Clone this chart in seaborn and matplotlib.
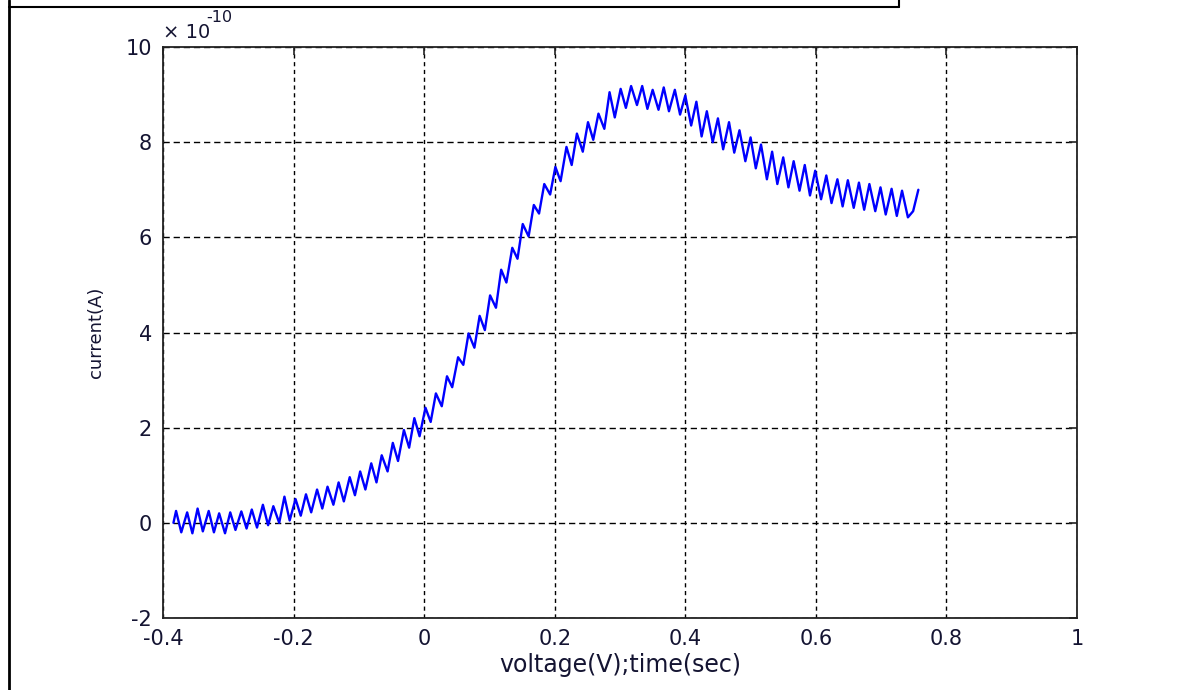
import numpy as np
import pandas as pd
import matplotlib
matplotlib.use("Agg")
import matplotlib.pyplot as plt
from matplotlib.lines import Line2D
import seaborn as sns

# ---- data ----
voltage = [
    -0.384, -0.380, -0.372, -0.363, -0.355, -0.347, -0.339, -0.330, -0.322, -0.314, -0.305,
    -0.297, -0.289, -0.280, -0.272, -0.264, -0.256, -0.247, -0.239, -0.231, -0.222,
    -0.214, -0.206, -0.197, -0.189, -0.181, -0.173, -0.164, -0.156, -0.148, -0.139,
    -0.131, -0.123, -0.114, -0.106, -0.098, -0.090, -0.081, -0.073, -0.065, -0.056,
    -0.048, -0.040, -0.031, -0.023, -0.015, -0.007, 0.002, 0.010, 0.018, 0.027,
    0.035, 0.043, 0.052, 0.060, 0.068, 0.077, 0.085, 0.093, 0.101, 0.110,
    0.118, 0.126, 0.135, 0.143, 0.151, 0.160, 0.168, 0.176, 0.184, 0.193,
    0.201, 0.209, 0.218, 0.226, 0.234, 0.243, 0.251, 0.259, 0.267, 0.276,
    0.284, 0.292, 0.301, 0.309, 0.317, 0.326, 0.334, 0.342, 0.350, 0.359,
    0.367, 0.375, 0.384, 0.392, 0.400, 0.409, 0.417, 0.425, 0.433, 0.442,
    0.450, 0.458, 0.467, 0.475, 0.483, 0.492, 0.500, 0.508, 0.516, 0.525,
    0.533, 0.541, 0.550, 0.558, 0.566, 0.575, 0.583, 0.591, 0.599, 0.608,
    0.616, 0.624, 0.633, 0.641, 0.649, 0.658, 0.666, 0.674, 0.682, 0.691,
    0.699, 0.707, 0.716, 0.724, 0.732, 0.741, 0.749, 0.757,
]
# current in units of 1e-10 A
current_e10 = [
    0.00, 0.25, -0.20, 0.22, -0.22, 0.30, -0.18, 0.25, -0.20, 0.20, -0.22,
    0.22, -0.15, 0.24, -0.12, 0.28, -0.10, 0.38, -0.05, 0.35, 0.00,
    0.55, 0.05, 0.50, 0.15, 0.60, 0.22, 0.70, 0.30, 0.76, 0.38,
    0.85, 0.45, 0.96, 0.58, 1.08, 0.70, 1.25, 0.85, 1.42, 1.08,
    1.68, 1.30, 1.95, 1.58, 2.20, 1.82, 2.42, 2.12, 2.72, 2.45,
    3.08, 2.85, 3.48, 3.32, 3.98, 3.68, 4.35, 4.05, 4.78, 4.52,
    5.32, 5.05, 5.78, 5.55, 6.28, 6.02, 6.68, 6.50, 7.12, 6.90,
    7.48, 7.18, 7.90, 7.52, 8.18, 7.80, 8.42, 8.05, 8.60, 8.28,
    9.05, 8.52, 9.12, 8.72, 9.18, 8.78, 9.18, 8.70, 9.10, 8.68,
    9.15, 8.65, 9.10, 8.58, 8.98, 8.35, 8.85, 8.12, 8.65, 8.00,
    8.50, 7.85, 8.42, 7.78, 8.25, 7.60, 8.10, 7.45, 7.95, 7.22,
    7.80, 7.12, 7.68, 7.05, 7.60, 6.98, 7.52, 6.88, 7.40, 6.80,
    7.30, 6.72, 7.22, 6.65, 7.20, 6.62, 7.15, 6.58, 7.12, 6.55,
    7.05, 6.48, 7.02, 6.45, 6.98, 6.42, 6.55, 7.00,
]
x_ticks = [-0.4, -0.2, 0, 0.2, 0.4, 0.6, 0.8, 1]
x_tick_labels = ["-0.4", "-0.2", "0", "0.2", "0.4", "0.6", "0.8", "1"]
y_ticks = [-2, 0, 2, 4, 6, 8, 10]
y_tick_labels = ["-2", "0", "2", "4", "6", "8", "10"]

df = pd.DataFrame({"voltage": voltage, "current": current_e10})

sns.set_style("white")
plt.rcParams["font.family"] = ["DejaVu Sans"]
plt.rcParams["axes.unicode_minus"] = False

TXT = "#141432"
W, H = 1184, 690
fig = plt.figure(figsize=(W / 100, H / 100), dpi=100)
ax = fig.add_axes([163 / W, 1 - 618 / H, (1077 - 163) / W, (618 - 47) / H])

sns.lineplot(data=df, x="voltage", y="current", ax=ax, color="#0000ff",
             linewidth=1.7, sort=False, estimator=None)

ax.set_xlim(-0.4, 1.0)
ax.set_ylim(-2, 10)
ax.set_xticks(x_ticks)
ax.set_xticklabels(x_tick_labels)
ax.set_yticks(y_ticks)
ax.set_yticklabels(y_tick_labels)
ax.tick_params(direction="in", length=6, width=1.2, color="#222222",
               top=True, right=True, labelsize=15, pad=8, labelcolor=TXT)
ax.xaxis.grid(True, color="black", linestyle=(0, (3, 2.6)), linewidth=1.0)
ax.yaxis.grid(True, color="black", linestyle=(0, (4.5, 2.8)), linewidth=1.0)
for s in ax.spines.values():
    s.set_visible(True)
    s.set_color("#222222")
    s.set_linewidth(1.3)

ax.set_xlabel("voltage(V);time(sec)", fontsize=17, labelpad=3, color=TXT)
ax.set_ylabel("current(A)", fontsize=13, labelpad=15, color=TXT)

# multiplier text (x 10^-10)
fig.text(163 / W, 1 - 38 / H, "\u00d7 10", fontsize=14, ha="left", va="baseline", color=TXT)
fig.text(206 / W, 1 - 22 / H, "-10", fontsize=11.5, ha="left", va="baseline", color=TXT)

# outer frame decorations
fig.add_artist(Line2D([9 / W, 9 / W], [0, 1], color="black", linewidth=2))
fig.add_artist(Line2D([9 / W, 899 / W], [1 - 7 / H, 1 - 7 / H], color="black", linewidth=1.5))
fig.add_artist(Line2D([899 / W, 899 / W], [1 - 7 / H, 1], color="black", linewidth=1.5))

fig.savefig("out.png", dpi=100)
